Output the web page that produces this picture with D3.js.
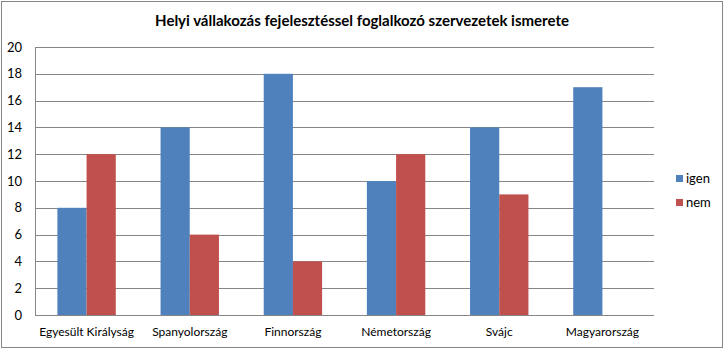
<!DOCTYPE html>
<html><head><meta charset="utf-8">
<script src="https://cdn.jsdelivr.net/npm/d3@7"></script>
<style>body{margin:0;background:#fff}svg{display:block;font-family:Lato,"Open Sans",sans-serif}</style>
</head><body><svg id="c" width="726" height="351"></svg>
<script>
const categories = ["Egyesült Királyság","Spanyolország","Finnország","Németország","Svájc","Magyarország"];
const seriesNames = ["igen","nem"];
const igen = [8,14,18,10,14,17];
const nem = [12,6,4,12,9,0];
const yTicks = [0,2,4,6,8,10,12,14,16,18,20];
const colors = ["#4F81BD","#C0504D"];
const title = "Helyi vállakozás fejelesztéssel foglalkozó szervezetek ismerete";

const svg = d3.select("#c");
svg.append("rect").attr("x",1.5).attr("y",1.5).attr("width",721).attr("height",346)
  .attr("fill","#fff").attr("stroke","#868686");
svg.append("text").attr("x",362).attr("y",26).attr("text-anchor","middle")
  .attr("font-weight","bold").attr("font-size",15).attr("fill","#000").text(title);

const L=35,R=654,T=47,B=315;
const x0 = d3.scaleBand().domain(categories).range([L,R]).paddingInner(0.434).paddingOuter(0.217);
const x1 = d3.scaleBand().domain(seriesNames).range([0,x0.bandwidth()]);
const y = d3.scaleLinear().domain([0,20]).range([B,T]);

const grid = svg.append("g");
grid.selectAll("line").data(yTicks).join("line")
  .attr("x1",L).attr("x2",R).attr("y1",d=>Math.round(y(d))+0.5).attr("y2",d=>Math.round(y(d))+0.5)
  .attr("stroke","#868686");
svg.append("line").attr("x1",L+0.5).attr("x2",L+0.5).attr("y1",T).attr("y2",B).attr("stroke","#868686");

const yAxis = d3.axisLeft(y).tickValues(yTicks).tickSize(0).tickPadding(13);
const ya = svg.append("g").attr("transform",`translate(${L},0)`).call(yAxis);
ya.select(".domain").remove();
ya.selectAll("text").attr("font-size",13).attr("font-family","Lato,sans-serif").attr("fill","#000");

const data = categories.map((c,i)=>({c, vals:[igen[i],nem[i]]}));
const g = svg.append("g").selectAll("g").data(data).join("g")
  .attr("transform",d=>`translate(${x0(d.c)},0)`);
g.selectAll("rect").data(d=>d.vals.map((v,j)=>({v,s:seriesNames[j],j}))).join("rect")
  .attr("x",d=>x1(d.s)).attr("width",x1.bandwidth())
  .attr("y",d=>y(d.v)).attr("height",d=>B-y(d.v)).attr("fill",d=>colors[d.j]);

const xAxis = d3.axisBottom(x0).tickSize(0).tickPadding(12);
const xa = svg.append("g").attr("transform",`translate(0,${B})`).call(xAxis);
xa.select(".domain").remove();
xa.selectAll("text").attr("font-size",12).attr("font-family","Lato,sans-serif").attr("fill","#000");

const leg = svg.append("g").selectAll("g").data(seriesNames).join("g")
  .attr("transform",(d,i)=>`translate(676,${175+i*24})`);
leg.append("rect").attr("width",7).attr("height",7).attr("fill",(d,i)=>colors[i]);
leg.append("text").attr("x",10).attr("y",8).attr("font-size",13).attr("fill","#000").text(d=>d);
</script></body></html>
